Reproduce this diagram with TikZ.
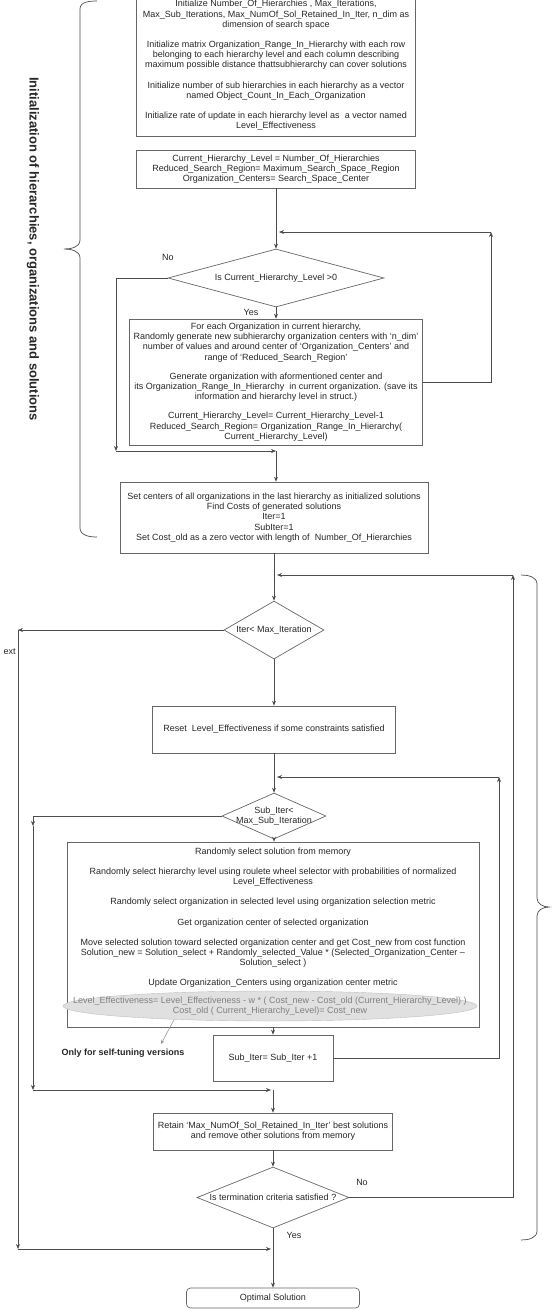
\documentclass[tikz,border=0pt]{standalone}
\usepackage{fontspec}
\setmainfont{Liberation Sans}
\usetikzlibrary{shapes.geometric,arrows.meta}

\begin{document}
\begin{tikzpicture}[x=1pt,y=1pt,
  every node/.style={font=\fontsize{9}{10.2}\selectfont, text=black!85},
  box/.style={draw=black!60, line width=0.7pt, align=center, inner sep=0pt},
  decision/.style={diamond, draw=black!60, line width=0.7pt, inner sep=0pt},
  flow/.style={draw=black!70, line width=0.7pt, -{Stealth[length=5pt,width=4pt]}},
  bracket/.style={draw=black!70, line width=0.7pt}
]
\useasboundingbox (0,0) rectangle (556,-1310);

% Initialization
\node[box, minimum width=279pt, minimum height=141pt] (init) at (276,-65.5) {Initialize Number\_Of\_Hierarchies , Max\_Iterations,\\
Max\_Sub\_Iterations, Max\_NumOf\_Sol\_Retained\_In\_Iter, n\_dim as\\
dimension of search space\\[10pt]
Initialize matrix Organization\_Range\_In\_Hierarchy with each row\\
belonging to each hierarchy level and each column describing\\
maximum possible distance thattsubhierarchy can cover solutions\\[10pt]
Initialize number of sub hierarchies in each hierarchy as a vector\\
named Object\_Count\_In\_Each\_Organization\\[10pt]
Initialize rate of update in each hierarchy level as\ \ a vector named\\
Level\_Effectiveness};
\node[box, minimum width=279pt, minimum height=38pt] (start) at (276,-169) {Current\_Hierarchy\_Level = Number\_Of\_Hierarchies\\
Reduced\_Search\_Region= Maximum\_Search\_Space\_Region\\
Organization\_Centers= Search\_Space\_Center};
\node[decision, minimum width=216pt, minimum height=58pt, label={center:Is Current\_Hierarchy\_Level >0}] (level) at (276,-278) {};
\node (level-no) at (168,-257) {No};
\node (level-yes) at (251,-312) {Yes};
\node[box, minimum width=293pt, minimum height=126pt] (gen) at (276,-382) {For each Organization in current hierarchy,\\
Randomly generate new subhierarchy organization centers with `n\_dim'\\
number of values and around center of `Organization\_Centers' and\\
range of `Reduced\_Search\_Region'\\[9pt]
Generate organization with aformentioned center and\\
its Organization\_Range\_In\_Hierarchy\ \ in current organization. (save its\\
information and hierarchy level in struct.)\\[9pt]
Current\_Hierarchy\_Level= Current\_Hierarchy\_Level-1\\
Reduced\_Search\_Region= Organization\_Range\_In\_Hierarchy(\\
Current\_Hierarchy\_Level)};
\node[box, minimum width=308pt, minimum height=71pt] (setc) at (274,-517.5) {Set centers of all organizations in the last hierarchy as initialized solutions\\
Find Costs of generated solutions\\
Iter=1\\
SubIter=1\\
Set Cost\_old as a zero vector with length of\ \ Number\_Of\_Hierarchies};

\coordinate (no-down) at (116,-451);
\coordinate (join1) at (276,-451);
\coordinate (loop1) at (491,-232);
\coordinate (loop1-in) at (279,-232);
\draw[flow] (start) -- (level);
\draw[flow] (level) -- (gen);
\draw[flow] (level.west) -| (no-down);
\draw[flow] (no-down) -- (join1);
\draw[flow] (join1) -- (setc.north -| join1);
\draw[flow] (gen.east) -| (loop1);
\draw[flow] (loop1) -- (loop1-in);

\draw[bracket] (97,-1) to[out=180,in=90] (80,-9) -- (80,-240) to[out=-90,in=0] (64,-249)
  to[out=0,in=90] (80,-258) -- (80,-528) to[out=-90,in=180] (97,-537);
\node[rotate=-90, font=\bfseries\fontsize{13}{15}\selectfont] (init-title) at (33,-249) {Initialization of hierarchies, organizations and solutions};

% Main loop
\node[decision, minimum width=100pt, minimum height=58pt, label={center:Iter< Max\_Iteration}] (iter) at (274,-630) {};
\node[box, minimum width=243pt, minimum height=47pt] (reset) at (274,-729.5) {Reset\ \ Level\_Effectiveness if some constraints satisfied};
\node[decision, minimum width=104pt, minimum height=46pt, label={[align=center]center:Sub\_Iter<\\Max\_Sub\_Iteration}] (subiter) at (274,-816) {};
\node[box, minimum width=412pt, minimum height=185pt] (move) at (273,-934.5) {Randomly select solution from memory\\[10pt]
Randomly select hierarchy level using roulete wheel selector with probabilities of normalized\\
Level\_Effectiveness\\[10pt]
Randomly select organization in selected level using organization selection metric\\[10pt]
Get organization center of selected organization\\[10pt]
Move selected solution toward selected organization center and get Cost\_new from cost function\\
Solution\_new = Solution\_select + Randomly\_selected\_Value * (Selected\_Organization\_Center --\\
Solution\_select )\\[10pt]
Update Organization\_Centers using organization center metric\\[11pt]
\strut\\[1pt] \strut};
\node[ellipse, draw=black!25, fill=black!12, minimum width=414pt, minimum height=30pt, inner sep=0pt,
  label={[align=center, text=black!50]center:Level\_Effectiveness= Level\_Effectiveness - w * ( Cost\_new - Cost\_old (Current\_Hierarchy\_Level) )\\Cost\_old ( Current\_Hierarchy\_Level)= Cost\_new}] (tune) at (270,-1006) {};
\node[font=\bfseries\fontsize{9}{11}\selectfont] (tune-note) at (123,-1053) {Only for self-tuning versions};
\coordinate (tune-tip) at (161,-1044);
\draw[draw=black!40, line width=0.6pt, -{Stealth[length=4pt,width=3.5pt]}] (tune.188) -- (tune-tip);
\node[box, minimum width=120pt, minimum height=46pt] (count) at (273,-1058) {Sub\_Iter= Sub\_Iter +1};
\node[box, minimum width=239pt, minimum height=37pt] (retain) at (273,-1131.5) {Retain `Max\_NumOf\_Sol\_Retained\_In\_Iter' best solutions\\
and remove other solutions from memory};
\node[decision, minimum width=152pt, minimum height=61pt, label={center:Is termination criteria satisfied ?}] (stop) at (273,-1197.5) {};
\node (stop-no) at (362,-1182) {No};
\node (stop-yes) at (294,-1235) {Yes};
\node[box, rounded corners=4pt, minimum width=173pt, minimum height=20pt] (opt) at (273,-1298) {Optimal Solution};
\node[anchor=west] (exit-label) at (0,-652) {ext};

\coordinate (outer-top) at (513,-575);
\coordinate (outer-in) at (277,-575);
\coordinate (exit-left) at (18,-630);
\coordinate (exit-down) at (18,-1249);
\coordinate (exit-join) at (271,-1249);
\coordinate (inner-top) at (499,-777);
\coordinate (inner-in) at (277,-777);
\coordinate (sub-left) at (33,-826);
\coordinate (sub-down) at (33,-1090);
\coordinate (sub-join) at (271,-1090);
\draw[flow] (setc.south -| iter) -- (iter);
\draw[flow] (stop.east) -| (outer-top);
\draw[flow] (outer-top) -- (outer-in);
\draw[flow] (iter.west) -- (exit-left);
\draw[flow] (exit-left) -- (exit-down);
\draw[flow] (exit-down) -- (exit-join);
\draw[flow] (iter) -- (reset);
\draw[flow] (reset) -- (subiter);
\draw[flow] (subiter.west) -| (sub-left);
\draw[flow] (sub-left) -- (sub-down);
\draw[flow] (sub-down) -- (sub-join);
\draw[flow] (subiter) -- (move.north -| subiter);
\draw[flow] (move.south -| count) -- (count);
\draw[flow] (count.east) -| (inner-top);
\draw[flow] (inner-top) -- (inner-in);
\draw[flow] (sub-join -| retain) -- (retain);
\draw[flow] (retain) -- (stop);
\draw[flow] (stop) -- (opt);

\draw[bracket] (521,-575) to[out=0,in=90] (537,-584) -- (537,-898) to[out=-90,in=180] (549,-907)
  to[out=180,in=90] (537,-916) -- (537,-1231) to[out=-90,in=0] (521,-1240);
\end{tikzpicture}
\end{document}
